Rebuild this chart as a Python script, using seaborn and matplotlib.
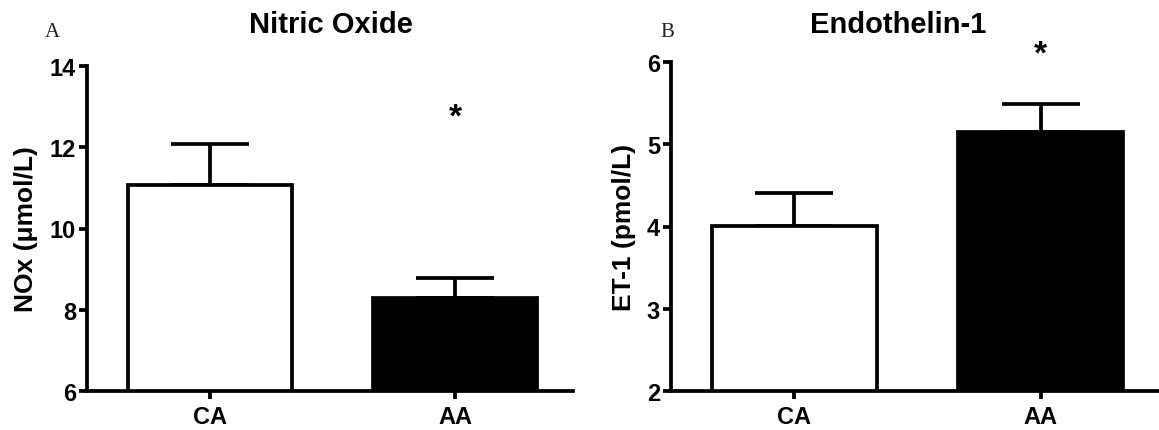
import pandas as pd
import matplotlib
matplotlib.use("Agg")
import matplotlib.pyplot as plt
import seaborn as sns

groups = ["CA", "AA"]
bar_colors = ["white", "black"]

no_mean = [11.08, 8.28]
no_sem = [1.0, 0.5]

et_mean = [4.01, 5.15]
et_sem = [0.40, 0.34]

sns.set_theme(style="ticks")
plt.rcParams["font.family"] = ["Liberation Sans", "DejaVu Sans"]
plt.rcParams["font.weight"] = "bold"
plt.rcParams["text.color"] = "black"
plt.rcParams["axes.labelcolor"] = "black"

LW = 2.7

fig = plt.figure(figsize=(11.59, 4.31), dpi=100)
ax1 = fig.add_axes([87 / 1159, 39 / 431, 486 / 1159, 325 / 431])
ax2 = fig.add_axes([671 / 1159, 39 / 431, 488 / 1159, 329 / 431])


def panel(ax, means, sems, ylim, yticks, ylabel, star_y):
    df = pd.DataFrame({"group": groups, "value": means})
    sns.barplot(data=df, x="group", y="value", hue="group", palette=bar_colors,
                width=0.67, edgecolor="black", linewidth=LW, legend=False,
                ax=ax, zorder=2)
    ax.errorbar(range(len(groups)), means, yerr=[[0] * len(sems), sems],
                fmt="none", ecolor="black", elinewidth=LW, capsize=28,
                capthick=LW, zorder=1)
    ax.set_ylim(*ylim)
    ax.set_xlim(-0.5, 1.48)
    ax.set_yticks(yticks)
    ax.set_xlabel("")
    ax.set_ylabel(ylabel, fontsize=19, fontweight="bold", labelpad=8, color="black")
    sns.despine(ax=ax)
    for s in ["left", "bottom"]:
        ax.spines[s].set_linewidth(LW)
        ax.spines[s].set_color("black")
    ax.tick_params(axis="y", length=6, width=LW, labelsize=17, pad=2, colors="black")
    ax.tick_params(axis="x", length=6, width=LW, labelsize=17, pad=4, colors="black")
    for lab in ax.get_xticklabels() + ax.get_yticklabels():
        lab.set_fontweight("bold")
    ax.text(1, star_y, "*", ha="center", va="center", fontsize=24,
            fontweight="bold", color="black")
    ax.set_facecolor("white")


panel(ax1, no_mean, no_sem, (6, 14), [6, 8, 10, 12, 14], "NOx (\u03bcmol/L)", 12.75)
panel(ax2, et_mean, et_sem, (2, 6), [2, 3, 4, 5, 6], "ET-1 (pmol/L)", 6.1)

fig.text(331 / 1159, 1 - 33 / 431, "Nitric Oxide", ha="center", va="baseline",
         fontsize=21, fontweight="bold", color="black")
fig.text(898 / 1159, 1 - 33 / 431, "Endothelin-1", ha="center", va="baseline",
         fontsize=21, fontweight="bold", color="black")
fig.text(45 / 1159, 1 - 37 / 431, "A", ha="left", va="baseline",
         fontsize=15, family="Liberation Serif", fontweight="normal", color="#222222")
fig.text(660 / 1159, 1 - 37 / 431, "B", ha="left", va="baseline",
         fontsize=15, family="Liberation Serif", fontweight="normal", color="#222222")

fig.savefig("out.png", dpi=100, facecolor="white")
